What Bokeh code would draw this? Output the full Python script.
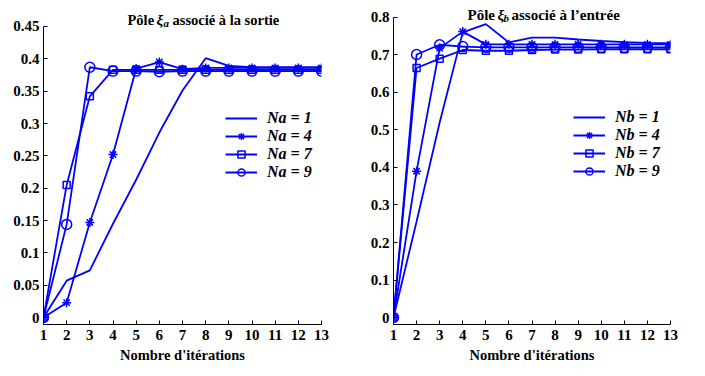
from bokeh.plotting import figure
from bokeh.layouts import row
from bokeh.models import (FixedTicker, PrintfTickFormatter, Legend, LegendItem,
                          Label, Range1d, ColumnDataSource)
from bokeh.embed import file_html
from bokeh.resources import INLINE

# ---------------- data ----------------
iterations = list(range(1, 14))

na_labels = ["Na = 1", "Na = 4", "Na = 7", "Na = 9"]
na1 = [0, 0.057, 0.073, 0.145, 0.213, 0.286, 0.351, 0.401, 0.389, 0.387, 0.387, 0.387, 0.387]
na4 = [0, 0.023, 0.147, 0.252, 0.385, 0.395, 0.384, 0.386, 0.386, 0.386, 0.386, 0.386, 0.386]
na7 = [0, 0.205, 0.342, 0.383, 0.383, 0.383, 0.383, 0.383, 0.383, 0.383, 0.383, 0.383, 0.383]
na9 = [0, 0.144, 0.387, 0.381, 0.381, 0.380, 0.381, 0.381, 0.381, 0.381, 0.381, 0.381, 0.381]

nb_labels = ["Nb = 1", "Nb = 4", "Nb = 7", "Nb = 9"]
nb1 = [0, 0.256, 0.52, 0.76, 0.782, 0.733, 0.746, 0.746, 0.741, 0.737, 0.734, 0.732, 0.731]
nb4 = [0, 0.39, 0.718, 0.762, 0.728, 0.728, 0.728, 0.728, 0.728, 0.728, 0.728, 0.728, 0.728]
nb7 = [0, 0.665, 0.69, 0.713, 0.711, 0.711, 0.713, 0.714, 0.714, 0.715, 0.715, 0.715, 0.715]
nb9 = [0, 0.701, 0.727, 0.722, 0.72, 0.72, 0.72, 0.72, 0.72, 0.72, 0.72, 0.72, 0.72]

x_ticks = list(range(1, 14))
ya_ticks = [0, 0.05, 0.1, 0.15, 0.2, 0.25, 0.3, 0.35, 0.4, 0.45]
yb_ticks = [0, 0.1, 0.2, 0.3, 0.4, 0.5, 0.6, 0.7, 0.8]

x_label = "Nombre d'itérations"
markers = [None, "asterisk", "square", "circle"]
marker_sizes = [0, 9, 7, 10]

BLUE = "#0000ff"
SERIF = "Liberation Serif"


def panel(series, labels, y_range, y_bounds, y_ticks, w, h, borders, legend_loc, title_parts):
    bl, br, bt, bb = borders
    p = figure(width=w, height=h, output_backend="svg",
               toolbar_location=None, x_range=Range1d(1, 13), y_range=y_range,
               min_border_left=bl, min_border_right=br, min_border_top=bt,
               min_border_bottom=bb)
    p.outline_line_color = None
    p.grid.visible = False
    p.background_fill_color = "white"
    p.border_fill_color = "white"
    p.axis.axis_line_color = "black"
    p.axis.axis_line_width = 1
    p.axis.major_tick_line_color = "black"
    p.axis.major_tick_out = 0
    p.axis.major_tick_in = 4
    p.axis.minor_tick_line_color = None
    p.axis.major_label_text_font = SERIF
    p.axis.major_label_text_font_style = "bold"
    p.axis.major_label_text_font_size = "15px"
    p.axis.major_label_text_color = "black"
    p.yaxis.major_label_standoff = 4
    p.xaxis.major_label_standoff = 5
    p.xaxis.ticker = FixedTicker(ticks=x_ticks)
    p.yaxis.ticker = FixedTicker(ticks=y_ticks)
    p.yaxis.formatter = PrintfTickFormatter(format="%g")
    p.yaxis.bounds = y_bounds
    p.xaxis.axis_label = x_label
    p.xaxis.axis_label_text_font = SERIF
    p.xaxis.axis_label_text_font_style = "bold"
    p.xaxis.axis_label_text_font_size = "14.5px"
    p.xaxis.axis_label_text_color = "black"
    p.xaxis.axis_label_standoff = 4

    items = []
    for ys, lab, mk, ms in zip(series, labels, markers, marker_sizes):
        src = ColumnDataSource(dict(x=iterations, y=ys))
        rs = [p.line("x", "y", source=src, line_color=BLUE, line_width=1.8)]
        if mk is not None:
            rs.append(p.scatter("x", "y", source=src, marker=mk, size=ms,
                                line_color=BLUE, line_width=1.5,
                                fill_alpha=0))
        items.append(LegendItem(label=lab, renderers=rs))
    leg = Legend(items=items, location=legend_loc,
                 label_text_font=SERIF, label_text_font_style="bold italic",
                 label_text_font_size="16px", label_text_color="black",
                 glyph_width=32, glyph_height=18, label_height=18,
                 label_standoff=10, spacing=0, padding=0, margin=0,
                 border_line_alpha=0, background_fill_alpha=0)
    p.add_layout(leg)

    for (txt, x, y, style, size) in title_parts:
        p.add_layout(Label(x=x, y=y, x_units="screen", y_units="screen",
                           text=txt, text_font=SERIF, text_font_style=style,
                           text_font_size=size, text_color="black",
                           text_baseline="alphabetic", text_align="left"))
    return p


left = panel([na1, na4, na7, na9], na_labels, Range1d(-0.0108, 0.4902), (-0.0108, 0.45),
             ya_ticks, 366, 372, (43, 45, 0, 48), (182, 143),
             [("Pôle", 84, 305, "bold", "14.5px"),
              ("ξ", 113, 305, "bold italic", "15px"),
              ("a", 120, 302, "bold italic", "11px"),
              ("associé à la sortie", 129, 305, "bold", "14.5px")])

right = panel([nb1, nb4, nb7, nb9], nb_labels, Range1d(-0.0185, 0.8449), (-0.0185, 0.8),
              yb_ticks, 331, 372, (27, 27, 0, 45), (180, 144),
              [("Pôle", 74, 310, "bold", "15px"),
               ("ξ", 104, 310, "bold italic", "15px"),
               ("b", 110, 307, "bold italic", "11px"),
               ("associé à l’entrée", 118, 310, "bold", "15px")])

layout = row(left, right, spacing=0)
open("out.html", "w").write(file_html(layout, INLINE))
